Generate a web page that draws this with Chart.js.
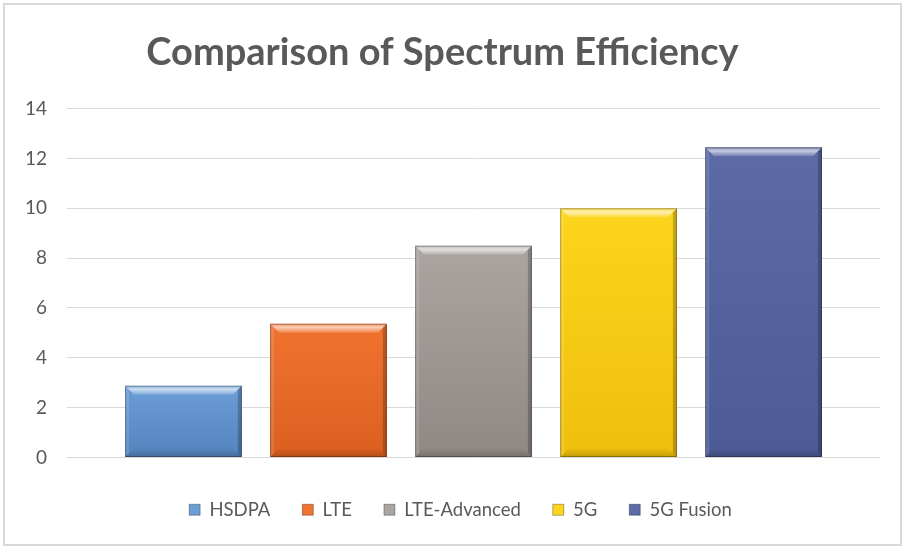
<!DOCTYPE html>
<html>
<head>
<meta charset="utf-8">
<script src="https://cdn.jsdelivr.net/npm/chart.js@4"></script>
<style>
  html, body { margin: 0; padding: 0; background: #fff; }
  #wrap { width: 905px; height: 549px; position: relative; }
</style>
</head>
<body>
<div id="wrap"><canvas id="chart" width="905" height="549"></canvas></div>
<script>
const technologies = ["HSDPA", "LTE", "LTE-Advanced", "5G", "5G Fusion"]
const efficiency = [2.88, 5.37, 8.5, 10, 12.45]
const yTicks = [0, 2, 4, 6, 8, 10, 12, 14]

// [top, bottom] of each bar face
const COLORS = {
  "HSDPA": ["#6b9dd6", "#5583bd"],
  "LTE": ["#f07330", "#db5f1f"],
  "LTE-Advanced": ["#aba5a2", "#8f8885"],
  "5G": ["#fcd51c", "#eebf0c"],
  "5G Fusion": ["#5c6aa6", "#4c5a95"],
}
const TEXT = "#595959"
const FONT = "Lato, 'Open Sans', sans-serif"

function faceColor(ctx) {
  const c = COLORS[ctx.dataset.label]
  const y = ctx.chart.scales && ctx.chart.scales.y
  if (!y || ctx.parsed === undefined || isNaN(y.getPixelForValue(0))) return c[0]
  const top = y.getPixelForValue(ctx.parsed.y)
  const base = y.getPixelForValue(0)
  const g = ctx.chart.ctx.createLinearGradient(0, top, 0, base)
  g.addColorStop(0, c[0])
  g.addColorStop(1, c[1])
  return g
}

// frame around the whole picture
const framePlugin = {
  id: "frame",
  afterLayout(chart) {
    // the legend sits a little right of centre in the original
    chart.legend.left += 18
    chart.legend.right += 18
  },
  afterDraw(chart) {
    const ctx = chart.ctx
    ctx.save()
    ctx.strokeStyle = "#d9d9d9"
    ctx.lineWidth = 2
    ctx.strokeRect(4, 4, chart.width - 8, chart.height - 8)
    ctx.restore()
  },
}

// fake excel bevel on top of each bar
const bevelPlugin = {
  id: "bevel",
  afterDatasetsDraw(chart) {
    const ctx = chart.ctx
    chart.data.datasets.forEach((ds, i) => {
      chart.getDatasetMeta(i).data.forEach((bar) => {
        const l = bar.x - bar.width / 2
        const r = bar.x + bar.width / 2
        const t = bar.y
        const b = bar.base
        const d = 9
        const poly = (pts, fill) => {
          ctx.beginPath()
          ctx.moveTo(pts[0][0], pts[0][1])
          pts.slice(1).forEach((p) => ctx.lineTo(p[0], p[1]))
          ctx.closePath()
          ctx.fillStyle = fill
          ctx.fill()
        }
        ctx.save()
        const top = ctx.createLinearGradient(0, t, 0, t + d)
        top.addColorStop(0, "rgba(255,255,255,0.2)")
        top.addColorStop(0.4, "rgba(255,255,255,0.65)")
        top.addColorStop(1, "rgba(255,255,255,0.15)")
        poly([[l, t], [r, t], [r - d, t + d], [l + d, t + d]], top)
        poly([[l, t], [l + 4, t + 4], [l + 4, b - 4], [l, b]], "rgba(255,255,255,0.12)")
        poly([[r, t], [r, b], [r - 4, b - 4], [r - 4, t + 4]], "rgba(0,0,0,0.22)")
        const bot = ctx.createLinearGradient(0, b - d, 0, b)
        bot.addColorStop(0, "rgba(0,0,0,0)")
        bot.addColorStop(1, "rgba(0,0,0,0.18)")
        poly([[l, b], [l + d, b - d], [r - d, b - d], [r, b]], bot)
        ctx.strokeStyle = "rgba(0,0,0,0.3)"
        ctx.lineWidth = 1
        ctx.strokeRect(l + 0.5, t + 0.5, r - l - 1, b - t - 1)
        ctx.restore()
      })
    })
  },
}

const datasets = technologies.map((name, i) => ({
  label: name,
  data: [efficiency[i]],
  backgroundColor: faceColor,
  borderWidth: 0,
}))

new Chart(document.getElementById("chart"), {
  type: "bar",
  data: { labels: [""], datasets: datasets },
  plugins: [framePlugin, bevelPlugin],
  options: {
    responsive: false,
    animation: false,
    categoryPercentage: 0.892,
    barPercentage: 0.805,
    layout: { padding: { left: 5, right: 25, top: 14, bottom: 20 } },
    scales: {
      x: {
        ticks: { display: false },
        grid: { display: false },
        border: { display: false },
        afterFit: (axis) => { axis.height = 11 },
      },
      y: {
        min: 0,
        max: 14,
        afterBuildTicks: (axis) => {
          axis.ticks = yTicks.map((v) => ({ value: v }))
        },
        ticks: { color: TEXT, font: { family: FONT, size: 19 }, padding: 20 },
        grid: { color: "#d9d9d9", lineWidth: 1, drawTicks: false },
        border: { display: false },
      },
    },
    plugins: {
      title: {
        display: true,
        text: "Comparison of Spectrum Efficiency",
        color: TEXT,
        font: { family: FONT, size: 38, weight: "bold" },
        padding: { top: 16, bottom: 33 },
      },
      legend: {
        position: "bottom",
        labels: {
          color: TEXT,
          font: { family: FONT, size: 18.5 },
          boxWidth: 11,
          boxHeight: 11,
          padding: 32,
          generateLabels: (chart) =>
            chart.data.datasets.map((ds, i) => ({
              text: ds.label,
              fillStyle: COLORS[ds.label][0],
              strokeStyle: "rgba(0,0,0,0.3)",
              lineWidth: 1,
              fontColor: TEXT,
              datasetIndex: i,
            })),
        },
      },
      tooltip: { enabled: false },
    },
  },
})
</script>
</body>
</html>
